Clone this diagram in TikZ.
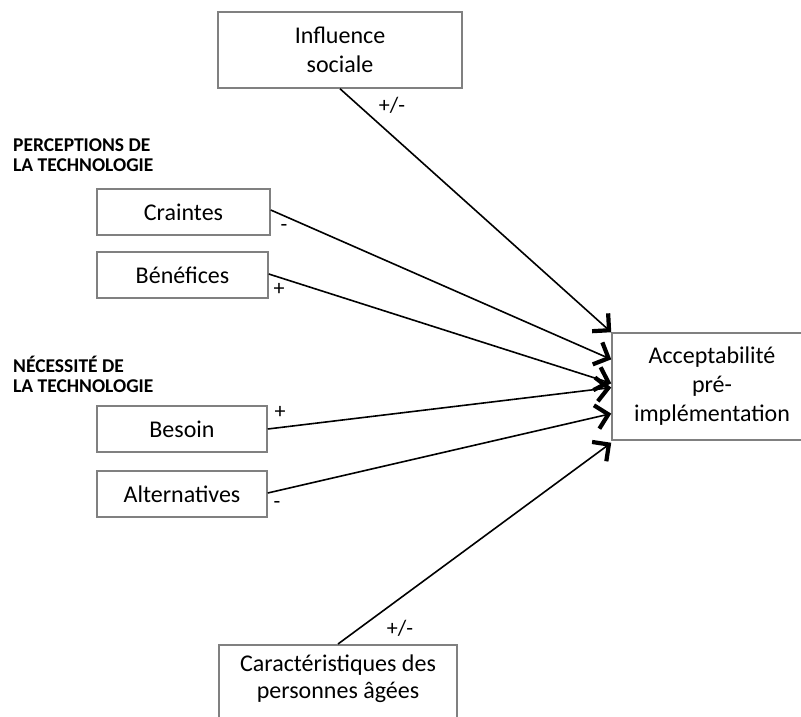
\documentclass[tikz,border=0pt]{standalone}
\usepackage{fontspec}
\setmainfont{Carlito}
\usetikzlibrary{arrows.meta,calc}
\tikzset{
  box/.style={draw=black!50, line width=1.5pt, fill=white, align=center,
    font=\fontsize{24}{29}\selectfont, inner sep=0pt},
  conn/.style={line width=1.6pt, draw=black,
    -{Straight Barb[length=12pt,width=24pt,line width=4.2pt]}},
  sign/.style={font=\fontsize{22}{22}\selectfont, inner sep=0pt},
  heading/.style={font=\bfseries\fontsize{19.5}{20}\selectfont, align=left, anchor=north west, inner sep=0pt}
}
\begin{document}
\begin{tikzpicture}[x=1pt,y=-1pt]
\useasboundingbox (0,0) rectangle (801,717);
% boxes
\node[box, minimum width=244, minimum height=76] (inf) at (340,50) {Influence\\sociale};
\node[box, minimum width=173, minimum height=46] (cra) at (183.5,212) {Craintes};
\node[box, minimum width=171, minimum height=46] (ben) at (182.5,275) {Bénéfices};
\node[box, minimum width=170, minimum height=46] (bes) at (182,429) {Besoin};
\node[box, minimum width=170, minimum height=46] (alt) at (182,494) {Alternatives};
\node[box, minimum width=200, minimum height=107] (acc) at (712,386.5) {Acceptabilité\\pré-\\implémentation};
\node[box, minimum width=238, minimum height=100, anchor=north] (car) at (338,644) {};
\node[font=\fontsize{24}{27}\selectfont, align=center, inner sep=0pt, anchor=north] (cartext) at (338,655) {Caractéristiques des\\personnes âgées};
% headings
\node[heading] (h1) at (13,139) {PERCEPTIONS DE\\LA TECHNOLOGIE};
\node[heading] (h2) at (13,356) {NÉCESSITÉ DE\\LA TECHNOLOGIE};
% connectors
\draw[conn] (inf.south) -- (acc.north west);
\draw[conn] ($(cra.east)+(0,-2)$) -- ($(acc.north west)!0.25!(acc.south west)$);
\draw[conn] ($(ben.east)+(0,-1)$) -- ($(acc.north west)!0.47!(acc.south west)$);
\draw[conn] (bes.east) -- ($(acc.north west)!0.51!(acc.south west)$);
\draw[conn] ($(alt.east)+(0,-1)$) -- ($(acc.north west)!0.75!(acc.south west)$);
\draw[conn] (car.north) -- ($(acc.north west)!1.0!(acc.south west)+(0,2)$);
% signs
\node[sign] (s1) at (392,105) {+/-};
\node[sign] (s2) at (284,228) {-};
\node[sign] (s3) at (279,289) {+};
\node[sign] (s4) at (280,412) {+};
\node[sign] (s5) at (277,505) {-};
\node[sign] (s6) at (400,628) {+/-};
\end{tikzpicture}
\end{document}
